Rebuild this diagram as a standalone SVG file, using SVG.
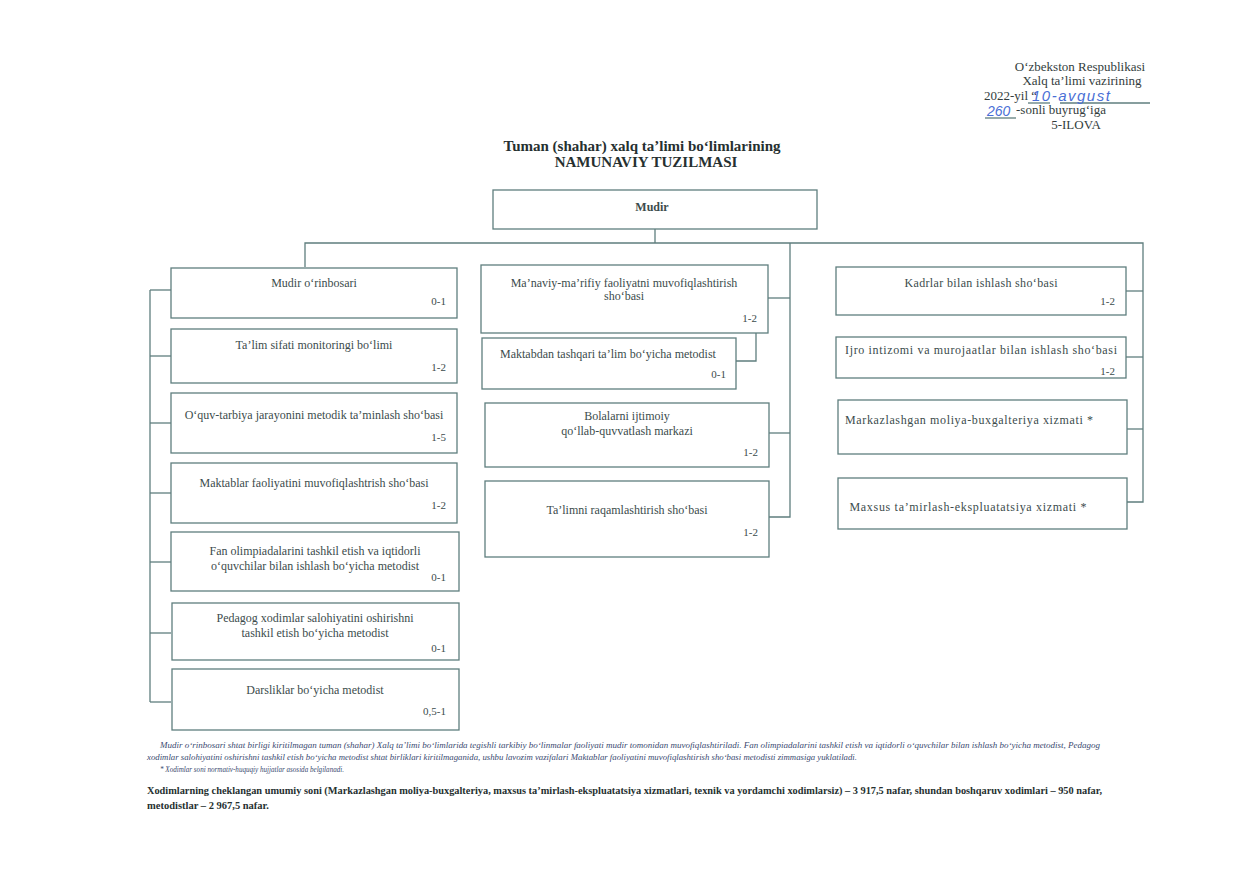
<svg xmlns="http://www.w3.org/2000/svg" width="1260" height="888" viewBox="0 0 1260 888">
<style>
.bx{fill:#ffffff;stroke:#5f7e7e;stroke-width:1.3}
.ln{fill:none;stroke:#5f7e7e;stroke-width:1.3}
.t{font-family:"Liberation Serif",serif;font-size:12px;fill:#3c4c4c;text-anchor:middle}
.n{font-family:"Liberation Serif",serif;font-size:11px;fill:#3c4c4c;text-anchor:end}
.hd{font-family:"Liberation Serif",serif;font-size:13px;fill:#333d3d}
.hw{font-family:"Liberation Sans",sans-serif;font-style:italic;fill:#4a6fd6}
.ttl{font-family:"Liberation Serif",serif;font-size:15px;font-weight:bold;fill:#263030;text-anchor:middle}
.fn{font-family:"Liberation Serif",serif;font-size:7.5px;font-style:italic;fill:#3a4a70}
.fb{font-family:"Liberation Serif",serif;font-size:10.5px;font-weight:bold;fill:#263030}
</style>
<rect width="1260" height="888" fill="#ffffff"/>

<g id="header">
<text class="hd" x="1080" y="71" text-anchor="middle">O‘zbekston Respublikasi</text>
<text class="hd" x="1082" y="85" text-anchor="middle">Xalq ta’limi vazirining</text>
<text class="hd" x="984" y="100">2022-yil “</text>
<line class="ln" x1="1028" y1="103" x2="1050" y2="103" stroke-width="0.8"/>
<line class="ln" x1="1060" y1="103" x2="1150" y2="103" stroke-width="0.8"/>
<text class="hw" x="1032" y="101" font-size="15" letter-spacing="1.5">10-avgust</text>
<text class="hw" x="987" y="116" font-size="14">260</text>
<line class="ln" x1="985" y1="118" x2="1016" y2="118" stroke-width="0.8"/>
<text class="hd" x="1016" y="114">-sonli buyrug‘iga</text>
<text class="hd" x="1076" y="129" text-anchor="middle">5-ILOVA</text>
</g>

<g id="title">
<text class="ttl" x="642" y="151">Tuman (shahar) xalq ta’limi bo‘limlarining</text>
<text class="ttl" x="646" y="167">NAMUNAVIY TUZILMASI</text>
</g>

<g id="connectors">
<polyline class="ln" points="655,229 655,243"/>
<polyline class="ln" points="305,267 305,243 1143,243 1143,502 1127,502"/>
<polyline class="ln" points="790,243 790,517 769,517"/>
<polyline class="ln" points="150,290 150,702"/>
<line class="ln" x1="150" y1="290" x2="171" y2="290"/>
<line class="ln" x1="150" y1="356" x2="171" y2="356"/>
<line class="ln" x1="150" y1="423" x2="171" y2="423"/>
<line class="ln" x1="150" y1="493" x2="171" y2="493"/>
<line class="ln" x1="150" y1="562" x2="171" y2="562"/>
<line class="ln" x1="150" y1="633" x2="171" y2="633"/>
<line class="ln" x1="150" y1="702" x2="171" y2="702"/>
<line class="ln" x1="768" y1="298" x2="790" y2="298"/>
<polyline class="ln" points="756,333 756,361 736,361"/>
<line class="ln" x1="769" y1="433" x2="790" y2="433"/>
<line class="ln" x1="1126" y1="291" x2="1143" y2="291"/>
<line class="ln" x1="1126" y1="357" x2="1143" y2="357"/>
<line class="ln" x1="1127" y1="429" x2="1143" y2="429"/>
</g>

<g id="mudir">
<rect class="bx" x="493" y="190" width="324" height="39"/>
<text class="t" x="652" y="211" font-weight="bold" font-size="11">Mudir</text>
</g>

<g id="l1"><rect class="bx" x="171" y="268" width="286" height="50"/>
<text class="t" x="314" y="287">Mudir o‘rinbosari</text><text class="n" x="446" y="305">0-1</text></g>
<g id="l2"><rect class="bx" x="171" y="329" width="286" height="54"/>
<text class="t" x="314" y="349">Ta’lim sifati monitoringi bo‘limi</text><text class="n" x="446" y="371">1-2</text></g>
<g id="l3"><rect class="bx" x="171" y="393" width="286" height="60"/>
<text class="t" x="314" y="419">O‘quv-tarbiya jarayonini metodik ta’minlash sho‘basi</text><text class="n" x="446" y="441">1-5</text></g>
<g id="l4"><rect class="bx" x="171" y="463" width="286" height="60"/>
<text class="t" x="314" y="487">Maktablar faoliyatini muvofiqlashtrish sho‘basi</text><text class="n" x="446" y="509">1-2</text></g>
<g id="l5"><rect class="bx" x="171" y="532" width="288" height="59"/>
<text class="t" x="315" y="555">Fan olimpiadalarini tashkil etish va iqtidorli</text>
<text class="t" x="315" y="570">o‘quvchilar bilan ishlash bo‘yicha metodist</text><text class="n" x="446" y="581">0-1</text></g>
<g id="l6"><rect class="bx" x="172" y="603" width="287" height="57"/>
<text class="t" x="315" y="622">Pedagog xodimlar salohiyatini oshirishni</text>
<text class="t" x="315" y="637">tashkil etish bo‘yicha metodist</text><text class="n" x="446" y="652">0-1</text></g>
<g id="l7"><rect class="bx" x="172" y="669" width="287" height="61"/>
<text class="t" x="315" y="694">Darsliklar bo‘yicha metodist</text><text class="n" x="446" y="715">0,5-1</text></g>

<g id="m1"><rect class="bx" x="481" y="265" width="287" height="68"/>
<text class="t" x="624" y="287">Ma’naviy-ma’rifiy faoliyatni muvofiqlashtirish</text>
<text class="t" x="624" y="300">sho‘basi</text><text class="n" x="757" y="322">1-2</text></g>
<g id="m2"><rect class="bx" x="482" y="338" width="254" height="51"/>
<text class="t" x="608" y="358">Maktabdan tashqari ta’lim bo‘yicha metodist</text><text class="n" x="726" y="378">0-1</text></g>
<g id="m3"><rect class="bx" x="485" y="403" width="284" height="64"/>
<text class="t" x="627" y="420">Bolalarni ijtimoiy</text>
<text class="t" x="627" y="435">qo‘llab-quvvatlash markazi</text><text class="n" x="758" y="456">1-2</text></g>
<g id="m4"><rect class="bx" x="485" y="481" width="284" height="76"/>
<text class="t" x="627" y="514">Ta’limni raqamlashtirish sho‘basi</text><text class="n" x="758" y="536">1-2</text></g>

<g id="r1"><rect class="bx" x="836" y="267" width="290" height="48"/>
<text class="t" x="981" y="287" textLength="153" lengthAdjust="spacing">Kadrlar bilan ishlash sho‘basi</text><text class="n" x="1115" y="305">1-2</text></g>
<g id="r2"><rect class="bx" x="836" y="337" width="290" height="41"/>
<text class="t" x="981" y="354" textLength="272" lengthAdjust="spacing">Ijro intizomi va murojaatlar bilan ishlash sho‘basi</text><text class="n" x="1115" y="375">1-2</text></g>
<g id="r3"><rect class="bx" x="838" y="400" width="289" height="54"/>
<text class="t" x="969" y="424" textLength="248" lengthAdjust="spacing">Markazlashgan moliya-buxgalteriya xizmati *</text></g>
<g id="r4"><rect class="bx" x="838" y="478" width="289" height="51"/>
<text class="t" x="968" y="511" textLength="237" lengthAdjust="spacing">Maxsus ta’mirlash-ekspluatatsiya xizmati *</text></g>

<g id="notes">
<text class="fn" x="160" y="748" textLength="940" lengthAdjust="spacingAndGlyphs">Mudir o‘rinbosari shtat birligi kiritilmagan tuman (shahar) Xalq ta’limi bo‘limlarida tegishli tarkibiy bo‘linmalar faoliyati mudir tomonidan muvofiqlashtiriladi. Fan olimpiadalarini tashkil etish va iqtidorli o‘quvchilar bilan ishlash bo‘yicha metodist, Pedagog</text>
<text class="fn" x="147" y="760" textLength="710" lengthAdjust="spacingAndGlyphs">xodimlar salohiyatini oshirishni tashkil etish bo‘yicha metodist shtat birliklari kiritilmaganida, ushbu lavozim vazifalari Maktablar faoliyatini muvofiqlashtirish sho‘basi metodisti zimmasiga yuklatiladi.</text>
<text class="fn" x="160" y="772" textLength="184" lengthAdjust="spacingAndGlyphs">* Xodimlar soni normativ-huquqiy hujjatlar asosida belgilanadi.</text>
<text class="fb" x="147" y="794" textLength="955" lengthAdjust="spacingAndGlyphs">Xodimlarning cheklangan umumiy soni (Markazlashgan moliya-buxgalteriya, maxsus ta’mirlash-ekspluatatsiya xizmatlari, texnik va yordamchi xodimlarsiz) – 3 917,5 nafar, shundan boshqaruv xodimlari – 950 nafar,</text>
<text class="fb" x="147" y="809">metodistlar – 2 967,5 nafar.</text>
</g>
</svg>
